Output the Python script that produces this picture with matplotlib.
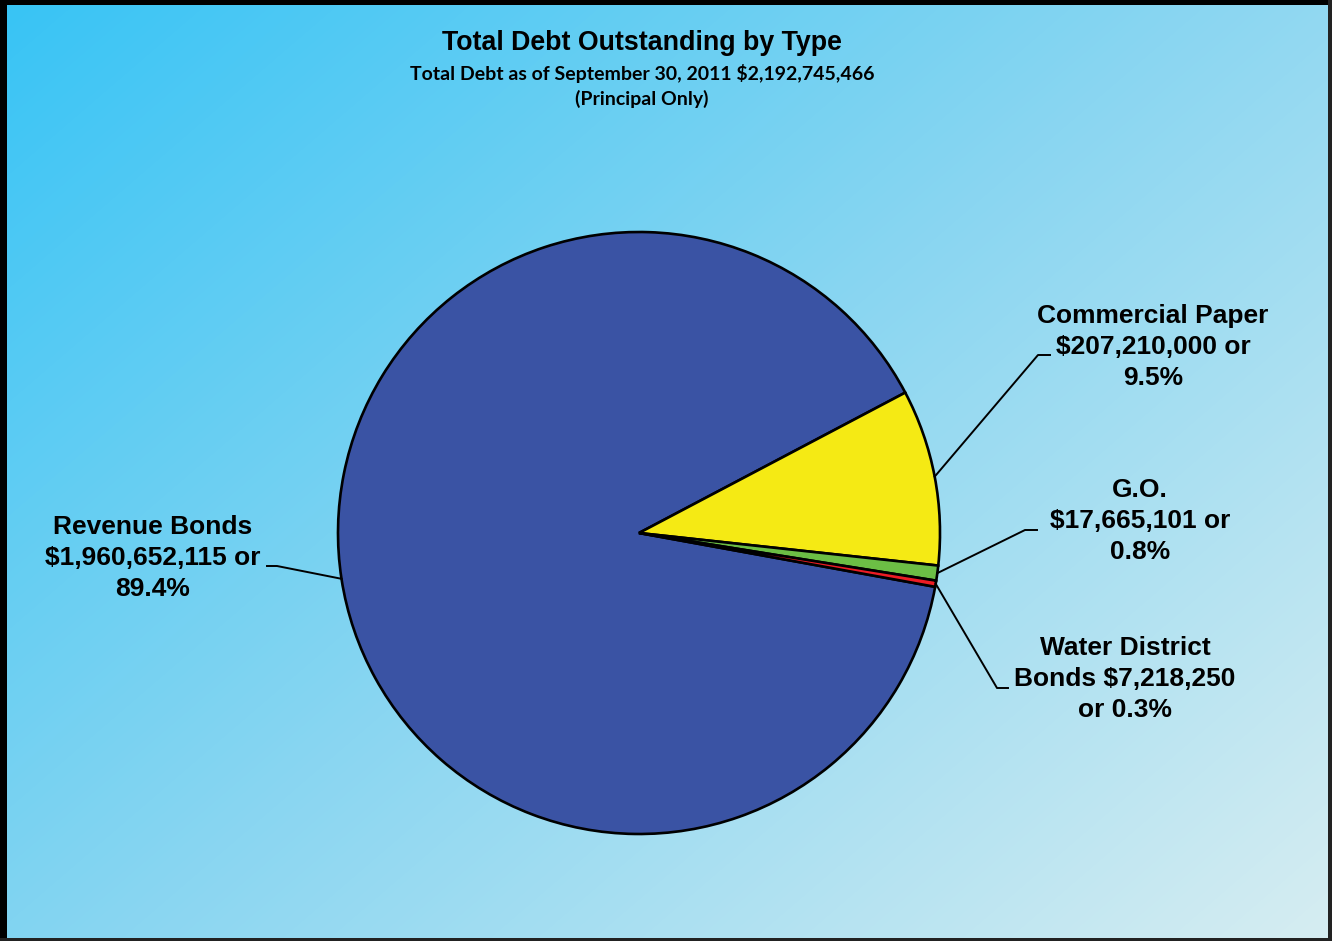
import numpy as np
import matplotlib
matplotlib.use("Agg")
import matplotlib.pyplot as plt
from matplotlib.colors import LinearSegmentedColormap
from matplotlib.patches import Rectangle

# ---- data ----
categories = ["Revenue Bonds", "Commercial Paper", "G.O.", "Water District Bonds"]
values = [1960652115, 207210000, 17665101, 7218250]
labels = ["Revenue Bonds\n$1,960,652,115 or\n89.4%",
          "Commercial Paper\n$207,210,000 or\n9.5%",
          "G.O.\n$17,665,101 or\n0.8%",
          "Water District\nBonds $7,218,250\nor 0.3%"]
colors = ["#3A53A4", "#F5EA14", "#6CBE45", "#ED1C24"]
title = "Total Debt Outstanding by Type"
subtitle1 = "Total Debt as of September 30, 2011 $2,192,745,466"
subtitle2 = "(Principal Only)"

W, H = 1332, 941
fig = plt.figure(figsize=(W / 100, H / 100), dpi=100)
ax = fig.add_axes([0, 0, 1, 1])

# background gradient (diagonal)
yy, xx = np.mgrid[0:H:4, 0:W:4]
t = (xx / W * 0.55 + yy / H * 0.45)
cmap = LinearSegmentedColormap.from_list("bg", ["#38C4F5", "#8AD6F1", "#D6EDF2"])
ax.imshow(t, cmap=cmap, extent=[0, W, 0, H], origin="upper", aspect="auto", zorder=0,
          interpolation="bilinear")

cx, cy, R = 639, H - 533, 301
wedges, _ = ax.pie(values, colors=colors, startangle=349.7, counterclock=False,
                   center=(cx, cy), radius=R,
                   wedgeprops=dict(edgecolor="black", linewidth=1.9), frame=True)
for w in wedges:
    w.set_zorder(2)

ax.set_xlim(0, W)
ax.set_ylim(0, H)
ax.set_aspect("auto")
ax.set_axis_off()

# label layout (pixel positions, top-left origin)
label_pos = [(153, 558), (1153, 347), (1140, 521), (1125, 679)]
elbows = [((277, 566), (267, 566)), ((1038, 355), (1050, 355)),
          ((1025, 530), (1037, 530)), ((997, 688), (1008, 688))]

lab_font = dict(family=["Liberation Sans", "DejaVu Sans"], weight="bold", size=19)
for w, lab, (lx, ly), (e1, e2) in zip(wedges, labels, label_pos, elbows):
    ang = np.deg2rad((w.theta1 + w.theta2) / 2)
    px, py = cx + R * np.cos(ang), cy + R * np.sin(ang)
    ax.plot([px, e1[0], e2[0]], [py, H - e1[1], H - e2[1]], color="black", lw=1.4, zorder=3)
    ax.text(lx, H - ly, lab, ha="center", va="center", linespacing=1.35, zorder=4, **lab_font)

ax.text(642, H - 43, title, ha="center", va="center", family=["Liberation Sans", "DejaVu Sans"],
        weight="bold", size=19.3, zorder=4)
ax.text(642, H - 73, subtitle1, ha="center", va="center", family=["Lato", "DejaVu Sans"],
        weight="bold", size=14, zorder=4)
ax.text(642, H - 99, subtitle2, ha="center", va="center", family=["Lato", "DejaVu Sans"],
        weight="bold", size=14, zorder=4)

# frame border
for (x0, y0, w_, h_, c) in [(0, 0, 7, H, "black"), (0, H - 5, W, 5, "black"),
                            (W - 4, 0, 4, H, "#222222"), (0, 0, W, 3, "#222222")]:
    ax.add_patch(Rectangle((x0, y0), w_, h_, facecolor=c, edgecolor="none", zorder=5))

fig.savefig("out.png", dpi=100)
